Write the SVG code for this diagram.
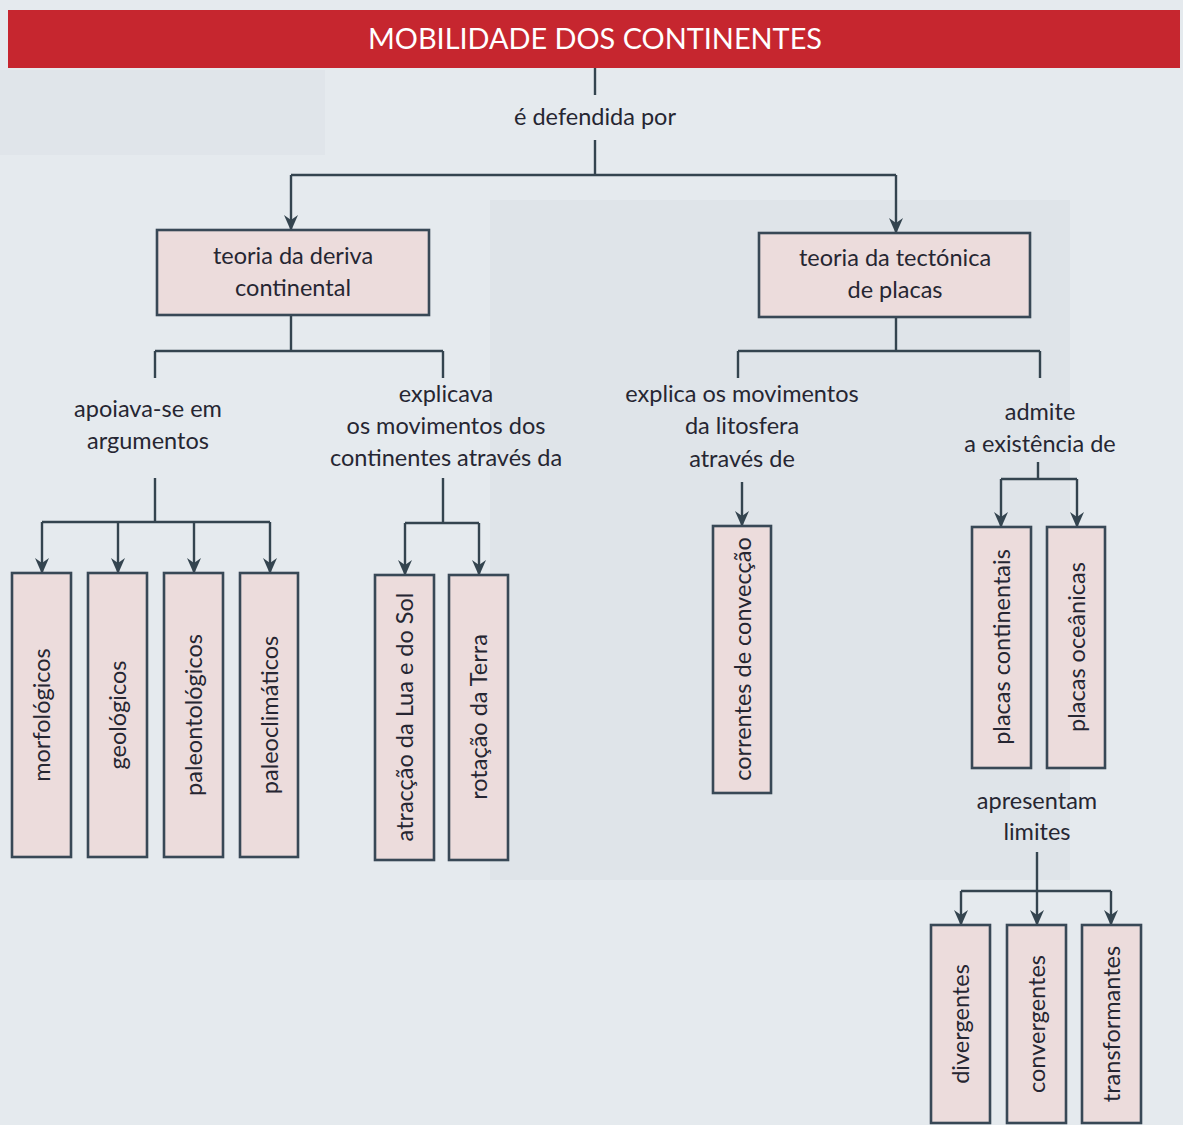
<svg xmlns="http://www.w3.org/2000/svg" width="1183" height="1125" viewBox="0 0 1183 1125">
<defs>
<marker id="arr" viewBox="0 0 16 14" markerWidth="16" markerHeight="14" refX="15" refY="7" orient="auto" markerUnits="userSpaceOnUse">
<path d="M0,0 L16,7 L0,14 L5,7 z" fill="#34444f"/>
</marker>
<style>
.bg{fill:#e5eaee}
.box{fill:#ecdcdc;stroke:#384856;stroke-width:2.6}
.c{fill:none;stroke:#34444f;stroke-width:2.4}
.a{fill:none;stroke:#34444f;stroke-width:2.4;marker-end:url(#arr)}
.t{font-family:Lato,"Open Sans","Liberation Sans",sans-serif;font-size:23.5px;fill:#262632;text-anchor:middle}
.title{font-family:Lato,"Open Sans","Liberation Sans",sans-serif;font-size:29px;fill:#ffffff;text-anchor:middle}
</style>
</defs>
<rect class="bg" x="0" y="0" width="1183" height="1125"/>
<rect x="0" y="70" width="325" height="85" fill="#e0e5ea"/>
<rect x="490" y="200" width="580" height="680" fill="#dfe4e9"/>
<g id="header">
<rect x="8" y="10" width="1172" height="58" fill="#c6262f"/>
<text class="title" x="595" y="49" textLength="454" lengthAdjust="spacingAndGlyphs">MOBILIDADE DOS CONTINENTES</text>
</g>
<g id="connectors">
<path class="c" d="M595,68 V95"/>
<path class="c" d="M595,140 V175"/>
<path class="c" d="M291,175 H896"/>
<path class="a" d="M291,175 V230"/>
<path class="a" d="M896,175 V233"/>
<path class="c" d="M291,315 V351 M155,351 H443 M155,351 V378 M443,351 V378"/>
<path class="c" d="M155,478 V522 M42,522 H270"/>
<path class="a" d="M42,522 V573"/>
<path class="a" d="M118,522 V573"/>
<path class="a" d="M194,522 V573"/>
<path class="a" d="M270,522 V573"/>
<path class="c" d="M443,478 V523 M405,523 H479"/>
<path class="a" d="M405,523 V575"/>
<path class="a" d="M479,523 V575"/>
<path class="c" d="M896,317 V351 M738,351 H1040 M738,351 V378 M1040,351 V378"/>
<path class="a" d="M742,482 V526"/>
<path class="c" d="M1038,462 V479 M1001,479 H1077"/>
<path class="a" d="M1001,479 V527"/>
<path class="a" d="M1077,479 V527"/>
<path class="c" d="M1037,852 V891 M961,891 H1111"/>
<path class="a" d="M961,891 V925"/>
<path class="a" d="M1037,891 V925"/>
<path class="a" d="M1111,891 V925"/>
</g>
<g id="lbl-defendida"><text class="t" x="595" y="125">é defendida por</text></g>
<g id="deriva">
<rect class="box" x="157" y="230" width="272" height="85"/>
<text class="t" x="293" y="264">teoria da deriva</text>
<text class="t" x="293" y="296">continental</text>
</g>
<g id="tectonica">
<rect class="box" x="759" y="233" width="271" height="84"/>
<text class="t" x="895" y="266">teoria da tectónica</text>
<text class="t" x="895" y="298">de placas</text>
</g>
<g id="lbl-apoiava">
<text class="t" x="148" y="417">apoiava-se em</text>
<text class="t" x="148" y="449">argumentos</text>
</g>
<g id="lbl-explicava">
<text class="t" x="446" y="402">explicava</text>
<text class="t" x="446" y="434">os movimentos dos</text>
<text class="t" x="446" y="466">continentes através da</text>
</g>
<g id="lbl-explica">
<text class="t" x="742" y="402">explica os movimentos</text>
<text class="t" x="742" y="434">da litosfera</text>
<text class="t" x="742" y="467">através de</text>
</g>
<g id="lbl-admite">
<text class="t" x="1040" y="420">admite</text>
<text class="t" x="1040" y="452">a existência de</text>
</g>
<g id="lbl-apresentam">
<text class="t" x="1037" y="809">apresentam</text>
<text class="t" x="1037" y="840">limites</text>
</g>
<g id="morfologicos">
<rect class="box" x="12" y="573" width="59" height="284"/>
<text class="t" transform="translate(50,715) rotate(-90)">morfológicos</text>
</g>
<g id="geologicos">
<rect class="box" x="88" y="573" width="59" height="284"/>
<text class="t" transform="translate(126,715) rotate(-90)">geológicos</text>
</g>
<g id="paleontologicos">
<rect class="box" x="164" y="573" width="59" height="284"/>
<text class="t" transform="translate(202,715) rotate(-90)">paleontológicos</text>
</g>
<g id="paleoclimaticos">
<rect class="box" x="240" y="573" width="58" height="284"/>
<text class="t" transform="translate(278,715) rotate(-90)">paleoclimáticos</text>
</g>
<g id="atraccao">
<rect class="box" x="375" y="575" width="59" height="285"/>
<text class="t" transform="translate(413,717) rotate(-90)">atracção da Lua e do Sol</text>
</g>
<g id="rotacao">
<rect class="box" x="449" y="575" width="59" height="285"/>
<text class="t" transform="translate(487,717) rotate(-90)">rotação da Terra</text>
</g>
<g id="correntes">
<rect class="box" x="713" y="526" width="58" height="267"/>
<text class="t" transform="translate(751,659) rotate(-90)">correntes de convecção</text>
</g>
<g id="continentais">
<rect class="box" x="972" y="527" width="59" height="241"/>
<text class="t" transform="translate(1010,647) rotate(-90)">placas continentais</text>
</g>
<g id="oceanicas">
<rect class="box" x="1047" y="527" width="58" height="241"/>
<text class="t" transform="translate(1085,647) rotate(-90)">placas oceânicas</text>
</g>
<g id="divergentes">
<rect class="box" x="931" y="925" width="59" height="198"/>
<text class="t" transform="translate(969,1024) rotate(-90)">divergentes</text>
</g>
<g id="convergentes">
<rect class="box" x="1007" y="925" width="59" height="198"/>
<text class="t" transform="translate(1045,1024) rotate(-90)">convergentes</text>
</g>
<g id="transformantes">
<rect class="box" x="1082" y="925" width="59" height="198"/>
<text class="t" transform="translate(1120,1024) rotate(-90)">transformantes</text>
</g>
</svg>
